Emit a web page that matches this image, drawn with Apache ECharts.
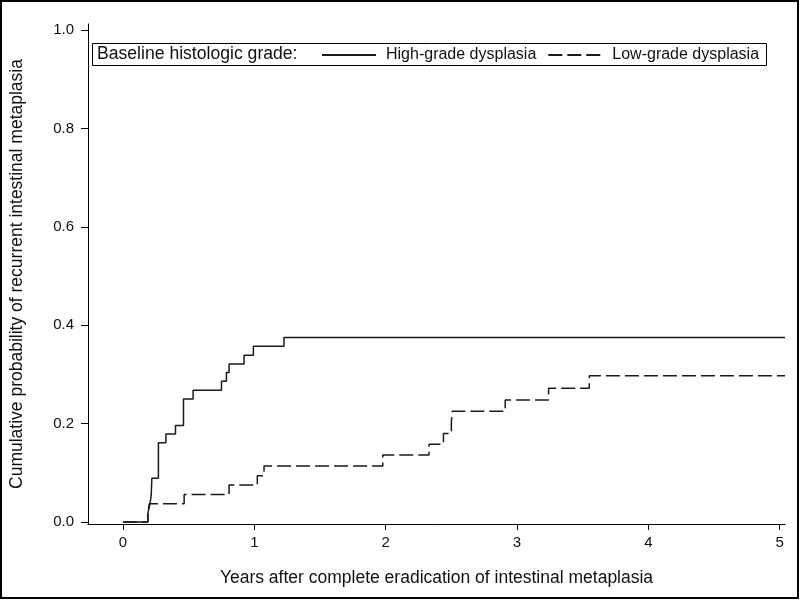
<!DOCTYPE html>
<html>
<head>
<meta charset="utf-8">
<script src="https://cdn.jsdelivr.net/npm/echarts@6/dist/echarts.min.js"></script>
<style>html,body{margin:0;padding:0;background:#fff}#c{width:800px;height:600px}</style>
</head>
<body>
<div id="c"></div>
<script>
// Data
const highTimes = [0, 0.19, 0.205, 0.215, 0.22, 0.27, 0.327, 0.40, 0.461, 0.534, 0.75, 0.788, 0.808, 0.922, 0.993, 1.226, 5.04];
const highProb  = [0, 0.018, 0.036, 0.054, 0.089, 0.161, 0.179, 0.196, 0.250, 0.268, 0.286, 0.304, 0.321, 0.339, 0.357, 0.375, 0.375];
const lowTimes  = [0, 0.19, 0.20, 0.466, 0.808, 1.023, 1.074, 1.978, 2.33, 2.44, 2.50, 2.507, 2.91, 3.24, 3.55, 5.04];
const lowProb   = [0, 0.018, 0.037, 0.056, 0.075, 0.094, 0.114, 0.136, 0.158, 0.180, 0.203, 0.225, 0.248, 0.272, 0.297, 0.297];
const xTicks = [0, 1, 2, 3, 4, 5];
const yTicks = [0, 0.2, 0.4, 0.6, 0.8, 1.0];
const seriesNames = ['High-grade dysplasia', 'Low-grade dysplasia'];
const legendTitle = 'Baseline histologic grade:';
const xTitle = 'Years after complete eradication of intestinal metaplasia';
const yTitle = 'Cumulative probability of recurrent intestinal metaplasia';

const zip = (a, b) => a.map((v, i) => [v, b[i]]);
const font = 'Liberation Sans, Arial, sans-serif';
const ink = '#111';

const chart = echarts.init(document.getElementById('c'), null, {renderer: 'canvas'});
chart.setOption({
  animation: false,
  backgroundColor: '#fff',
  grid: {left: 86, right: 15, top: 24, bottom: 76, containLabel: false},
  xAxis: {
    type: 'value', min: -0.266, max: 5.04,
    name: xTitle, nameLocation: 'middle', nameGap: 45,
    nameTextStyle: {fontFamily: font, fontSize: 17.5, color: ink},
    axisLine: {show: true, onZero: false, lineStyle: {color: '#000', width: 1}},
    axisTick: {show: true, length: 6, customValues: xTicks, lineStyle: {color: '#000'}},
    axisLabel: {customValues: xTicks, margin: 11, fontFamily: font, fontSize: 15, color: ink,
      formatter: v => String(Math.round(v))},
    splitLine: {show: false}
  },
  yAxis: {
    type: 'value', min: -0.0041, max: 1.0122,
    name: yTitle, nameLocation: 'middle', nameGap: 62, nameRotate: 90,
    nameTextStyle: {fontFamily: font, fontSize: 17.5, color: ink},
    axisLine: {show: true, onZero: false, lineStyle: {color: '#000', width: 1}},
    axisTick: {show: true, length: 7, customValues: yTicks, lineStyle: {color: '#000'}},
    axisLabel: {customValues: yTicks, margin: 14, fontFamily: font, fontSize: 15, color: ink,
      formatter: v => v.toFixed(1)},
    splitLine: {show: false}
  },
  legend: {
    left: 321, top: 47, padding: 0, orient: 'horizontal',
    itemWidth: 54, itemHeight: 14, itemGap: 11,
    itemStyle: {opacity: 0, borderWidth: 0},
    textStyle: {fontFamily: font, fontSize: 16, color: ink, padding: [0, 0, 0, 5]},
    data: seriesNames
  },
  graphic: [
    {type: 'rect', shape: {x: 1, y: 1, width: 797, height: 597}, style: {fill: 'none', stroke: '#000', lineWidth: 2}, silent: true},
    {type: 'rect', shape: {x: 92.5, y: 43.5, width: 674, height: 22}, style: {fill: 'none', stroke: '#000', lineWidth: 1}, silent: true},
    {type: 'text', x: 97, y: 54.5, style: {text: legendTitle, font: '17.6px ' + font, fill: ink, verticalAlign: 'middle'}, silent: true}
  ],
  series: [
    {name: seriesNames[0], type: 'line', step: 'end', data: zip(highTimes, highProb),
     showSymbol: false, symbol: 'none', lineStyle: {color: '#1a1a1a', width: 1.5, type: 'solid'}, itemStyle: {color: '#1a1a1a'}},
    {name: seriesNames[1], type: 'line', step: 'end', data: zip(lowTimes, lowProb),
     showSymbol: false, symbol: 'none', lineStyle: {color: '#1a1a1a', width: 1.5, type: [14, 5]}, itemStyle: {color: '#1a1a1a'}}
  ]
});
</script>
</body>
</html>
